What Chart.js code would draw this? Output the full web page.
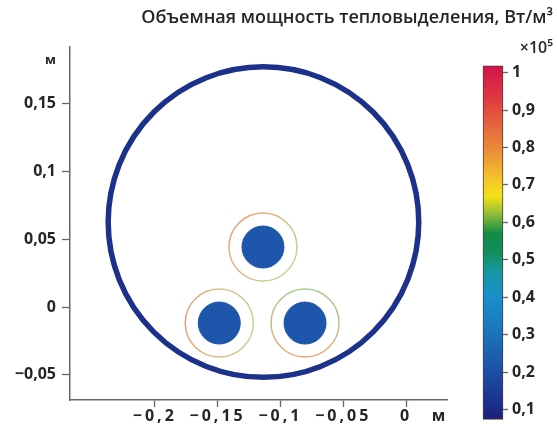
<!DOCTYPE html>
<html>
<head>
<meta charset="utf-8">
<script src="https://cdn.jsdelivr.net/npm/chart.js@4.4.1/dist/chart.umd.min.js"></script>
<style>
  body { margin: 0; background: #fff; }
  #wrap { position: relative; width: 557px; height: 433px; }
  #wrap > div { position: absolute; left: 0; top: 0; width: 557px; height: 433px; }
  #cbbox { pointer-events: none; }
</style>
</head>
<body>
<div id="wrap">
  <div><canvas id="field"></canvas></div>
  <div id="cbbox"><canvas id="colorbar"></canvas></div>
</div>
<script>
// cable geometry, metres
var cableX = [-0.1139, -0.1487, -0.0804];
var cableY = [0.0443, -0.0118, -0.0118];
var coreRadius = 0.0155;
var screenRadius = 0.0251;
var pipeX = -0.1135, pipeY = 0.0627, pipeRadius = 0.1146;

// heat release, x10^5 W/m3
var pipeHeat = 0.12;
var coreHeat = 0.22;
var screenHot = [0.84, 0.84, 0.82];
var screenCool = [0.62, 0.62, 0.6];
var screenHotAngle = [-2.4, 3.1, 1.6]; // side of the screen that is hottest, rad

// axes
var xTicks = [-0.2, -0.15, -0.1, -0.05, 0];
var yTicks = [-0.05, 0, 0.05, 0.1, 0.15];
var xUnitAt = 0.027, yUnitAt = 0.182;

// colour bar
var cbTicks = [0.1, 0.2, 0.3, 0.4, 0.5, 0.6, 0.7, 0.8, 0.9, 1];
var cbMin = 0.074, cbMax = 1.018;
var cmapValues = [0.074, 0.2, 0.3, 0.4, 0.47, 0.52, 0.57, 0.62, 0.67, 0.72, 0.78, 0.85, 0.93, 1.018];
var cmapColors = ['#1b1f7a', '#1d4fa6', '#1b72bb', '#1a8fcc', '#16979f', '#138f5c', '#128a45',
                  '#8dbb3a', '#f2e21a', '#f5c22a', '#eb9535', '#e56b3d', '#e03a40', '#d2124c'];

function hexRgb(h) {
  return [parseInt(h.substr(1, 2), 16), parseInt(h.substr(3, 2), 16), parseInt(h.substr(5, 2), 16)];
}

// value -> colour of the colour bar
function colormap(v, a) {
  if (a === undefined) a = 1;
  var i = 0;
  while (i < cmapValues.length - 2 && v > cmapValues[i + 1]) i++;
  var t = (v - cmapValues[i]) / (cmapValues[i + 1] - cmapValues[i]);
  t = Math.max(0, Math.min(1, t));
  var c0 = hexRgb(cmapColors[i]), c1 = hexRgb(cmapColors[i + 1]);
  var rgb = c0.map(function(c, k) { return Math.round(c + (c1[k] - c) * t); });
  return 'rgba(' + rgb.join(',') + ',' + a + ')';
}

function fmt(v) {
  return (v < 0 ? '\u2212' : '') + String(Math.abs(v)).replace('.', ',');
}

// radius in metres -> pixels
function px(chart, r) {
  var y = chart.scales.y;
  return Math.abs(y.getPixelForValue(0) - y.getPixelForValue(r));
}

Chart.defaults.font.family = "'Open Sans', sans-serif";
Chart.defaults.color = '#262626';

var axisColor = '#6e665e';

// wider letter spacing for the x tick labels, like in the figure
var spacedLabels = {
  id: 'spacedLabels',
  afterLayout: function(chart) {
    var s = chart.scales.x;
    if (s._spaced) return;
    var draw = s.drawLabels;
    s.drawLabels = function(area) {
      this.ctx.save();
      this.ctx.letterSpacing = '3px';
      draw.call(this, area);
      this.ctx.restore();
    };
    s._spaced = true;
  }
};

var cablePoints = cableX.map(function(x, i) { return {x: x, y: cableY[i]}; });

new Chart(document.getElementById('field'), {
  type: 'scatter',
  data: {
    datasets: [
      {
        label: 'экран',
        data: cablePoints,
        pointRadius: function(c) { return px(c.chart, screenRadius); },
        backgroundColor: 'rgba(0,0,0,0)',
        borderWidth: 1.5,
        borderColor: function(c) {
          var ch = c.chart, i = c.dataIndex;
          if (c.type !== 'data' || !ch.chartArea) return colormap(screenHot[0], 0.7);
          var cx = ch.scales.x.getPixelForValue(cableX[i]);
          var cy = ch.scales.y.getPixelForValue(cableY[i]);
          var g = ch.ctx.createConicGradient(screenHotAngle[i], cx, cy);
          g.addColorStop(0, colormap(screenHot[i], 0.7));
          g.addColorStop(0.5, colormap(screenCool[i], 0.55));
          g.addColorStop(1, colormap(screenHot[i], 0.7));
          return g;
        }
      },
      {
        label: 'жила',
        data: cablePoints,
        pointRadius: function(c) { return px(c.chart, coreRadius); },
        backgroundColor: colormap(coreHeat),
        borderColor: colormap(coreHeat),
        borderWidth: 1
      },
      {
        label: 'труба',
        data: [{x: pipeX, y: pipeY}],
        pointRadius: function(c) { return px(c.chart, pipeRadius); },
        backgroundColor: 'rgba(0,0,0,0)',
        borderColor: colormap(pipeHeat),
        borderWidth: 5.5
      }
    ]
  },
  options: {
    responsive: true,
    maintainAspectRatio: false,
    animation: false,
    events: [],
    layout: { padding: { top: 47, right: 110, left: 0, bottom: 0 } },
    plugins: { legend: { display: false }, tooltip: { enabled: false } },
    scales: {
      x: {
        type: 'linear',
        min: -0.2675,
        max: 0.0326,
        afterBuildTicks: function(s) {
          s.ticks = xTicks.concat([xUnitAt]).map(function(v) { return {value: v}; });
        },
        afterFit: function(s) { s.height = 33; },
        grid: {
          drawOnChartArea: false,
          tickLength: 7,
          tickWidth: 1.3,
          tickColor: function(c) { return c.tick && c.tick.value === xUnitAt ? 'rgba(0,0,0,0)' : axisColor; }
        },
        border: { color: axisColor, width: 1.5 },
        ticks: {
          autoSkip: false,
          maxRotation: 0,
          padding: 0,
          font: { size: 16, weight: 700 },
          callback: function(v) { return v === xUnitAt ? 'м' : fmt(v); }
        }
      },
      y: {
        type: 'linear',
        min: -0.0686,
        max: 0.1919,
        afterBuildTicks: function(s) {
          s.ticks = yTicks.concat([yUnitAt]).map(function(v) { return {value: v}; });
        },
        afterFit: function(s) { s.width = 70; },
        grid: {
          drawOnChartArea: false,
          tickLength: 8,
          tickWidth: 1.3,
          tickColor: function(c) { return c.tick && c.tick.value === yUnitAt ? 'rgba(0,0,0,0)' : axisColor; }
        },
        border: { color: axisColor, width: 1.5 },
        ticks: {
          padding: 6,
          font: function(c) {
            return c.tick && c.tick.value === yUnitAt ? { size: 13, weight: 700 } : { size: 16, weight: 700 };
          },
          callback: function(v) { return v === yUnitAt ? 'м' : fmt(v); }
        }
      }
    }
  },
  plugins: [spacedLabels]
});

// colour bar with its title
new Chart(document.getElementById('colorbar'), {
  type: 'bar',
  data: {
    labels: [''],
    datasets: [{
      yAxisID: 'y',
      data: [[cbMin, cbMax]],
      backgroundColor: function(c) {
        var ch = c.chart;
        if (!ch.chartArea) return cmapColors[0];
        var y = ch.scales.y;
        var g = ch.ctx.createLinearGradient(0, y.getPixelForValue(cbMin), 0, y.getPixelForValue(cbMax));
        cmapValues.forEach(function(v, i) {
          g.addColorStop((v - cbMin) / (cbMax - cbMin), cmapColors[i]);
        });
        return g;
      },
      borderColor: '#4a3c3c',
      borderWidth: 1,
      borderSkipped: false,
      barPercentage: 1,
      categoryPercentage: 1,
      clip: false
    }]
  },
  options: {
    responsive: true,
    maintainAspectRatio: false,
    animation: false,
    events: [],
    layout: { padding: { left: 0, right: 4, bottom: 5, top: 0 } },
    plugins: {
      legend: { display: false },
      tooltip: { enabled: false },
      title: {
        display: true,
        align: 'end',
        text: 'Объемная мощность тепловыделения, Вт/м³',
        color: '#262626',
        font: { size: 18, weight: 600 },
        padding: { top: 7, bottom: 4 }
      },
      subtitle: {
        display: true,
        align: 'end',
        text: '×10⁵',
        color: '#262626',
        font: { size: 16, weight: 600 },
        padding: { top: 6, bottom: 8 }
      }
    },
    scales: {
      x: { display: false },
      // empty axis that only keeps the bar on the right side
      spacer: {
        type: 'linear',
        position: 'left',
        afterFit: function(s) { s.width = 483; },
        grid: { display: false },
        border: { display: false },
        ticks: { display: false }
      },
      y: {
        position: 'right',
        min: cbMin,
        max: cbMax,
        afterBuildTicks: function(s) {
          s.ticks = cbTicks.map(function(v) { return {value: v}; });
        },
        afterFit: function(s) { s.width = 50; },
        grid: { drawOnChartArea: false, tickLength: 5, tickWidth: 1.3, tickColor: axisColor },
        border: { display: false },
        ticks: {
          padding: 4,
          font: { size: 16, weight: 700 },
          callback: function(v) { return fmt(v); }
        }
      }
    }
  }
});
</script>
</body>
</html>
